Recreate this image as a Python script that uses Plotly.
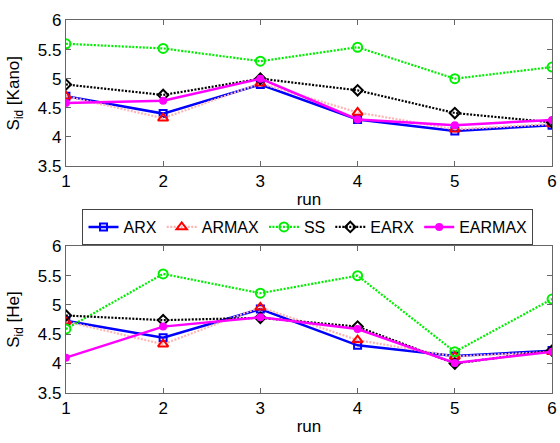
import plotly.graph_objects as go

runs = [1, 2, 3, 4, 5, 6]

# S_id values per model, Kano data set
kano_arx = [4.70, 4.40, 4.90, 4.30, 4.10, 4.20]
kano_armax = [4.70, 4.32, 4.92, 4.42, 4.13, 4.22]
kano_ss = [5.60, 5.52, 5.30, 5.54, 5.00, 5.20]
kano_earx = [4.90, 4.72, 5.00, 4.80, 4.41, 4.25]
kano_earmax = [4.58, 4.62, 5.00, 4.30, 4.20, 4.29]

# S_id values per model, He data set
he_arx = [4.73, 4.44, 4.93, 4.31, 4.13, 4.22]
he_armax = [4.72, 4.33, 4.96, 4.40, 4.12, 4.20]
he_ss = [4.59, 5.53, 5.20, 5.50, 4.20, 5.10]
he_earx = [4.82, 4.74, 4.78, 4.63, 4.00, 4.22]
he_earmax = [4.10, 4.63, 4.79, 4.59, 4.01, 4.20]

names = ["ARX", "ARMAX", "SS", "EARX", "EARMAX"]
fine_dot = "2px,1.5px"
styles = {
    "ARX": dict(line=dict(color="#0000ff", width=2.5, dash="solid"),
                marker=dict(symbol="square-open", color="#0000ff", size=7, line=dict(width=2))),
    "ARMAX": dict(line=dict(color="#ffb3b3", width=2.2, dash=fine_dot),
                  marker=dict(symbol="triangle-up-open", color="#ff0000", size=9, line=dict(width=2))),
    "SS": dict(line=dict(color="#00ee00", width=2.2, dash=fine_dot),
               marker=dict(symbol="circle-open", color="#00ee00", size=9, line=dict(width=2))),
    "EARX": dict(line=dict(color="#000000", width=2.2, dash=fine_dot),
                 marker=dict(symbol="diamond-open", color="#000000", size=8, line=dict(width=2))),
    "EARMAX": dict(line=dict(color="#ff00ff", width=2.5, dash="solid"),
                   marker=dict(symbol="circle", color="#ff00ff", size=8)),
}

kano = [kano_arx, kano_armax, kano_ss, kano_earx, kano_earmax]
he = [he_arx, he_armax, he_ss, he_earx, he_earmax]

fig = go.Figure()
for name, ys in zip(names, kano):
    fig.add_trace(go.Scatter(x=runs, y=ys, mode="lines+markers", name=name,
                             xaxis="x", yaxis="y", showlegend=True, **styles[name]))
for name, ys in zip(names, he):
    fig.add_trace(go.Scatter(x=runs, y=ys, mode="lines+markers", name=name,
                             xaxis="x2", yaxis="y2", showlegend=False, **styles[name]))

W, H = 560, 443
xdom = [62 / W, 557 / W]
axis_font = dict(family="Arial, Liberation Sans, sans-serif", size=17, color="#000")
common_x = dict(range=[1, 6], tickvals=runs, ticks="inside", ticklen=5, tickcolor="#666",
                showline=True, linecolor="#666", linewidth=1, mirror="ticks",
                showgrid=False, zeroline=False, tickfont=axis_font,
                ticklabeloverflow="allow",
                title=dict(text="run", font=axis_font, standoff=2))
common_y = dict(range=[3.5, 6], tickvals=[3.5, 4, 4.5, 5, 5.5, 6],
                ticktext=["3.5", "4", "4.5", "5", "5.5", "6"],
                ticks="inside", ticklen=5, tickcolor="#666",
                showline=True, linecolor="#666", linewidth=1, mirror="ticks",
                showgrid=False, zeroline=False, tickfont=axis_font,
                ticklabeloverflow="allow")

fig.update_layout(
    width=W, height=H,
    margin=dict(l=0, r=0, t=0, b=0),
    paper_bgcolor="white", plot_bgcolor="white",
    font=axis_font,
    xaxis=dict(domain=xdom, anchor="y", **common_x),
    yaxis=dict(domain=[1 - 164 / H, 1 - 12 / H], anchor="x",
               title=dict(text="S<sub>id</sub> [Kano]", font=axis_font, standoff=13), **common_y),
    xaxis2=dict(domain=xdom, anchor="y2", **common_x),
    yaxis2=dict(domain=[1 - 401 / H, 1 - 248 / H], anchor="x2",
                title=dict(text="S<sub>id</sub> [He]", font=axis_font, standoff=13), **common_y),
    legend=dict(orientation="h", x=308.5 / W, xanchor="center", y=1 - 209 / H, yanchor="top",
                bordercolor="#444", borderwidth=1, bgcolor="white",
                font=dict(family="Arial, Liberation Sans, sans-serif", size=16, color="#000"),
                itemwidth=30, tracegroupgap=0),
)

fig.write_html("out.html")
